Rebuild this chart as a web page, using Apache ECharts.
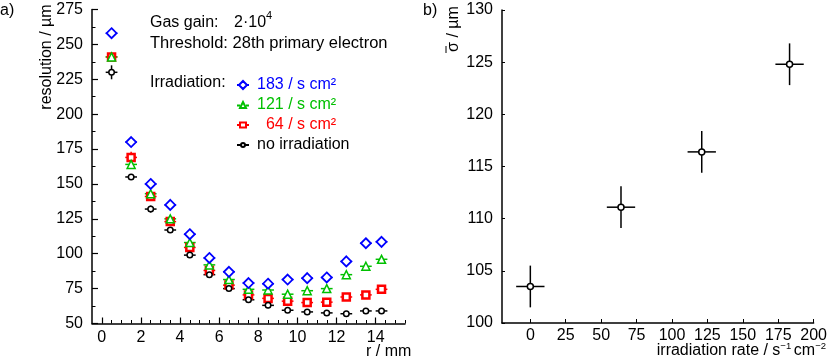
<!DOCTYPE html>
<html><head><meta charset="utf-8">
<script src="https://cdn.jsdelivr.net/npm/echarts@6/dist/echarts.min.js"></script>
<style>html,body{margin:0;padding:0;background:#fff}#c{width:830px;height:364px}</style>
</head><body><div id="c"></div>
<script>
// ---- data (left panel) ----
const radius = [0.5,1.5,2.5,3.5,4.5,5.5,6.5,7.5,8.5,9.5,10.5,11.5,12.5,13.5,14.3];
const res183 = [258,180,150,135,114,97,87,79,78.5,81.5,82.5,83,94.5,107.5,108.5];
const res121 = [241,164,143,125,108,92,81.5,74.5,74,71,73.5,75,85,91,96];
const res64  = [241,169,141,123,104.5,88,77.5,70.5,68,66,65,65.3,69,70.5,74.5];
const res0   = [230,155,132,117,99,85,75,67,63,59.5,58.3,57.6,57,59,59];
const err183 = [1.5,1.5,1.5,1.5,1.5,1.5,1.5,1.5,1.5,1.5,1.5,1.5,1.5,1.5,1.5];
const err121 = [3,3,2,2,2,2,1.5,1.5,1.5,1.5,1.5,1.5,1.5,1.5,1.5];
const err64  = [3,4,2.5,3,2,2,1.5,1.5,1.5,1.5,1.5,1.5,1.5,1.5,1.5];
const err0   = [5,2,2.5,2,1.5,1.5,1.5,1.5,2,1.5,2,2,1.5,2,1.5];
const radiusErr = 0.3;
const xTickLabels = [0,2,4,6,8,10,12,14];
const xMinorTicks = [];
for (let v = 0; v <= 15.5; v += 0.5) xMinorTicks.push(v);
// ---- data (right panel) ----
const rate = [0,64,121,183];
const sigmaMean = [103.5,111.1,116.4,124.8];
const rateErr = [10,10,10,10];
const sigmaErr = [2,2,2,2];
const rateTicks = [0,25,50,75,100,125,150,175,200];

const FONT = 'Liberation Sans, Arial, sans-serif';
const chart = echarts.init(document.getElementById('c'));

function errSeries(xs, ys, xe, ye, color, xi, yi) {
  const data = xs.map((x,i)=>[x, ys[i], Array.isArray(xe)?xe[i]:xe, Array.isArray(ye)?ye[i]:ye]);
  return {
    type:'custom', xAxisIndex:xi, yAxisIndex:yi, z:1, silent:true,
    data,
    renderItem(params, api){
      const x=api.value(0), y=api.value(1), dx=api.value(2), dy=api.value(3);
      const a=api.coord([x-dx,y]), b=api.coord([x+dx,y]);
      const c=api.coord([x,y-dy]), d=api.coord([x,y+dy]);
      const st={stroke:color, lineWidth:1.5};
      return {type:'group', children:[
        {type:'line', shape:{x1:a[0],y1:a[1],x2:b[0],y2:b[1]}, style:st},
        {type:'line', shape:{x1:c[0],y1:c[1],x2:d[0],y2:d[1]}, style:st}
      ]};
    }
  };
}
function pts(name, xs, ys, symbol, size, color, bw, xi, yi, z){
  return {type:'scatter', name, xAxisIndex:xi, yAxisIndex:yi, z,
    symbol, symbolSize:size, data: xs.map((x,i)=>[x,ys[i]]),
    itemStyle:{color:'#fff', borderColor:color, borderWidth:bw, opacity:1}};
}

const axisTxt = {color:'#000', fontFamily:FONT, fontSize:16};
const lineSt = {lineStyle:{color:'#000', width:1.5}};

const option = {
  animation:false,
  grid:[
    {left:92, top:9.5, width:313, height:314},
    {left:502, top:10, width:314, height:313},
    {left:92, top:313.5, width:313, height:10}
  ],
  xAxis:[
    {type:'value', gridIndex:0, position:'bottom', min:-0.5, max:15.5, splitLine:{show:false},
     axisLine:{show:true, onZero:false, ...lineSt},
     axisTick:{show:true, inside:true, length:6, customValues:xTickLabels, lineStyle:{color:'#000',width:1.2}},
     axisLabel:{...axisTxt, margin:6, customValues:xTickLabels}},
    {type:'value', gridIndex:1, position:'bottom', min:-20, max:200, splitLine:{show:false},
     axisLine:{show:true, onZero:false, ...lineSt},
     axisTick:{show:true, inside:true, length:4, customValues:rateTicks, lineStyle:{color:'#000',width:1}},
     axisLabel:{...axisTxt, margin:5, customValues:rateTicks}},
    {type:'value', gridIndex:2, position:'bottom', min:-0.5, max:15.5, splitLine:{show:false},
     axisLine:{show:false, onZero:false},
     axisTick:{show:true, inside:true, length:3.5, customValues:xMinorTicks, lineStyle:{color:'#000',width:1}},
     axisLabel:{show:false, customValues:xMinorTicks}}
  ],
  yAxis:[
    {type:'value', gridIndex:0, min:50, max:275, interval:25, splitLine:{show:false},
     axisLine:{show:true, onZero:false, ...lineSt},
     axisTick:{show:true, inside:true, length:6, lineStyle:{color:'#000',width:1.2}},
     minorTick:{show:true, splitNumber:2, length:3.5, lineStyle:{color:'#000',width:1}},
     axisLabel:{...axisTxt, margin:9}},
    {type:'value', gridIndex:1, min:100, max:130, interval:5, splitLine:{show:false},
     axisLine:{show:true, onZero:false, ...lineSt},
     axisTick:{show:true, inside:true, length:3, lineStyle:{color:'#000',width:1}},
     axisLabel:{...axisTxt, margin:9}},
    {type:'value', gridIndex:2, show:false, min:0, max:1}
  ],
  legend:{
    left:236, top:76, padding:0, orient:'vertical', itemWidth:12, itemHeight:8, itemGap:2,
    textStyle:{fontFamily:FONT, fontSize:16, lineHeight:18, padding:[0,0,0,3]},
    data:[
      {name:'183 / s cm²', textStyle:{color:'#0000ff'}, icon:'path://M0,4L2,4M2,4L6,0L10,4L6,8ZM10,4L12,4'},
      {name:'121 / s cm²', textStyle:{color:'#00c000'}, icon:'path://M0,5L3,5M3,7.5L6,1.5L9,7.5ZM9,5L12,5'},
      {name:'  64 / s cm²', textStyle:{color:'#ff0000'}, icon:'path://M0,4L3,4M3,1.5L9,1.5L9,6.5L3,6.5ZM9,4L12,4'},
      {name:'no irradiation', textStyle:{color:'#000'}, icon:'path://M0,4L4,4M4,4A2,2,0,1,1,8,4A2,2,0,1,1,4,4ZM8,4L12,4'}
    ]
  },
  series:[
    errSeries(radius, res64, radiusErr, err64, '#ff0000', 0, 0),
    errSeries(radius, res121, radiusErr, err121, '#00c000', 0, 0),
    errSeries(radius, res0, radiusErr, err0, '#000', 0, 0),
    errSeries(radius, res183, radiusErr, err183, '#0000ff', 0, 0),
    pts('  64 / s cm²', radius, res64, 'rect', 7, '#ff0000', 2.5, 0, 0, 3),
    pts('121 / s cm²', radius, res121, 'triangle', 8, '#00c000', 1.5, 0, 0, 4),
    pts('no irradiation', radius, res0, 'circle', 5.5, '#000', 1.5, 0, 0, 5),
    pts('183 / s cm²', radius, res183, 'diamond', 10, '#0000ff', 1.8, 0, 0, 6),
    errSeries(rate, sigmaMean, rateErr, sigmaErr, '#000', 1, 1),
    pts('sigma', rate, sigmaMean, 'circle', 6, '#000', 1.5, 1, 1, 5)
  ],
  graphic:[
    {type:'text', left:0, top:3, style:{text:'a)', font:'16px '+FONT, fill:'#000'}},
    {type:'text', left:423, top:3, style:{text:'b)', font:'16px '+FONT, fill:'#000'}},
    {type:'text', left:150, top:15, style:{text:'Gas gain:', font:'16px '+FONT, fill:'#000'}},
    {type:'text', left:234, top:15, style:{text:'2·10', font:'16px '+FONT, fill:'#000'}},
    {type:'text', left:266, top:10, style:{text:'4', font:'11px '+FONT, fill:'#000'}},
    {type:'text', left:150, top:35, style:{text:'Threshold: 28th primary electron', font:'16.5px '+FONT, fill:'#000'}},
    {type:'text', left:150, top:75, style:{text:'Irradiation:', font:'16px '+FONT, fill:'#000'}},
    {type:'text', x:47, y:57, rotation:Math.PI/2, style:{text:'resolution / µm', font:'16px '+FONT, fill:'#000', align:'center', verticalAlign:'middle'}},
    {type:'text', left:366, top:344, style:{text:'r / mm', font:'16px '+FONT, fill:'#000'}},
    {type:'text', x:454, y:29, rotation:Math.PI/2, style:{text:'σ / µm', font:'16px '+FONT, fill:'#000', align:'center', verticalAlign:'middle'}},
    {type:'line', shape:{x1:446, y1:46, x2:446, y2:53}, style:{stroke:'#000', lineWidth:1}},
    {type:'text', right:4, top:341, style:{text:'{m|irradiation rate / s}{s|−1 }{m|cm}{s|−2}', fill:'#000',
      rich:{m:{fontSize:16, fontFamily:FONT, lineHeight:18, verticalAlign:'bottom'},
            s:{fontSize:9.5, fontFamily:FONT, lineHeight:11, verticalAlign:'top'}}}}
  ]
};
chart.setOption(option);
</script></body></html>
